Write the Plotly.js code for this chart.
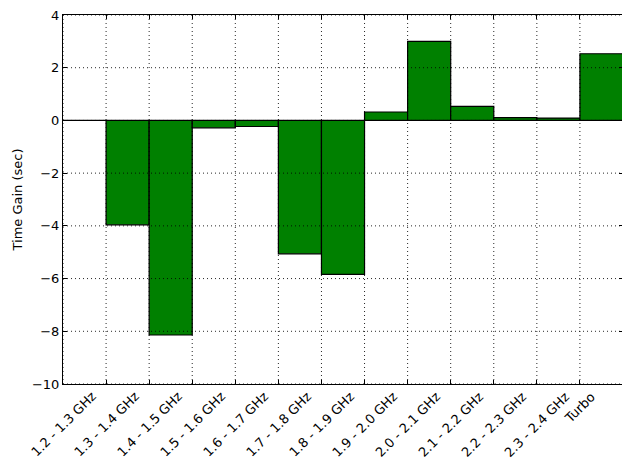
<!DOCTYPE html>
<html><head><meta charset="utf-8">
<script src="https://cdn.plot.ly/plotly-3.0.1.min.js"></script>
<style>html,body{margin:0;padding:0;overflow:hidden;background:#fff}</style>
</head><body><div id="chart" style="width:624px;height:459px"></div>
<script>
const categories = ["1.2 - 1.3 GHz","1.3 - 1.4 GHz","1.4 - 1.5 GHz","1.5 - 1.6 GHz","1.6 - 1.7 GHz","1.7 - 1.8 GHz","1.8 - 1.9 GHz","1.9 - 2.0 GHz","2.0 - 2.1 GHz","2.1 - 2.2 GHz","2.2 - 2.3 GHz","2.3 - 2.4 GHz","Turbo"];
const timeGain = [0.0, -3.96, -8.14, -0.28, -0.23, -5.06, -5.84, 0.32, 3.0, 0.53, 0.11, 0.09, 2.53];
const yTicks = [-10, -8, -6, -4, -2, 0, 2, 4];
const yTitle = "Time Gain (sec)";

const positions = categories.map((c, i) => i);
const font = {family: "DejaVu Sans", size: 13, color: "#000"};
const gridLine = {color: "rgba(0,0,0,0.85)", width: 1, dash: "1px,3px"};

const shapes = [];
yTicks.forEach(v => shapes.push({type: "line", xref: "paper", yref: "y", x0: 0, x1: 1, y0: v, y1: v, line: gridLine, layer: "above"}));
positions.forEach(p => shapes.push({type: "line", xref: "x", yref: "paper", x0: p, x1: p, y0: 0, y1: 1, line: gridLine, layer: "above"}));

const annotations = categories.map((c, i) => ({
  text: c, x: positions[i], xref: "x", y: 0, yref: "paper",
  xanchor: "center", yanchor: "top", textangle: -45, showarrow: false,
  yshift: -2, font: font
}));

const trace = {
  type: "bar", x: positions, y: timeGain, width: 1, offset: 0,
  marker: {color: "#008000", line: {color: "#000", width: 1.2}},
  hoverinfo: "skip"
};

const layout = {
  width: 624, height: 459,
  margin: {l: 63, r: 1, t: 15, b: 75},
  paper_bgcolor: "#fff", plot_bgcolor: "#fff",
  font: font, showlegend: false, bargap: 0,
  xaxis: {range: [0, 13], tickvals: positions, showticklabels: false,
    ticks: "inside", ticklen: 4, tickcolor: "#000", showgrid: false, zeroline: false,
    showline: true, linecolor: "#000", linewidth: 1, mirror: "ticks"},
  yaxis: {range: [-10, 4], tickvals: yTicks, ticks: "inside", ticklen: 4, tickcolor: "#000",
    showgrid: false, zeroline: false, showline: true, linecolor: "#000", linewidth: 1, mirror: "ticks",
    tickfont: font, automargin: false,
    title: {text: yTitle, font: font, standoff: 6}},
  shapes: shapes, annotations: annotations
};
Plotly.newPlot("chart", [trace], layout, {displayModeBar: false, staticPlot: true});
</script></body></html>
